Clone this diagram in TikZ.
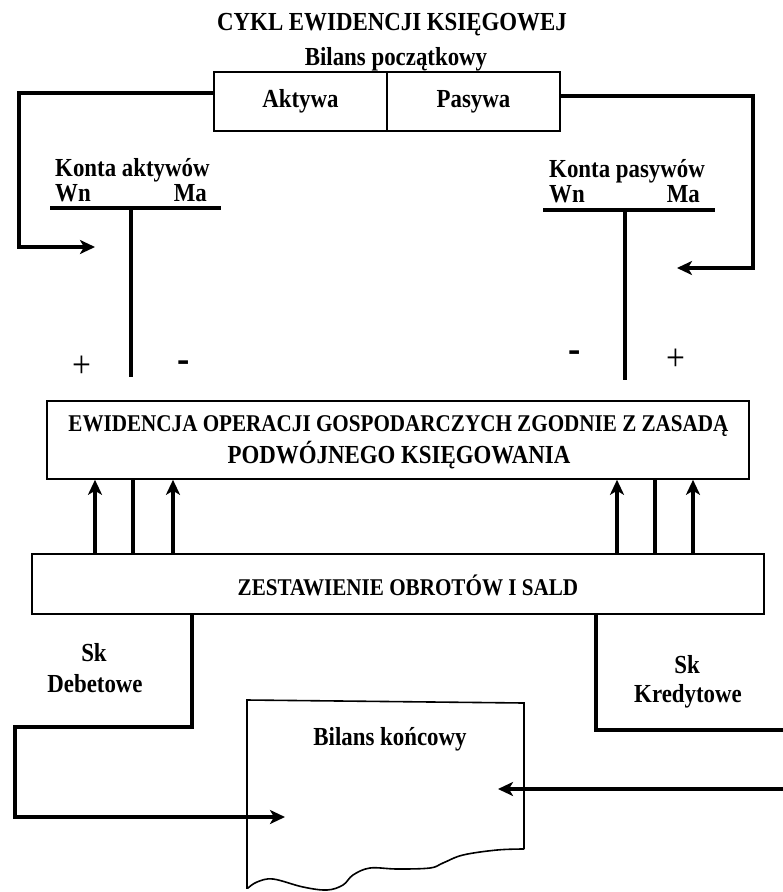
\documentclass[tikz,border=0pt]{standalone}
\usepackage{fontspec}
\setmainfont{Liberation Serif}[FakeStretch=0.88]
\usetikzlibrary{arrows.meta}
\newcommand\dsz[1]{\fontsize{#1}{#1}\selectfont\bfseries}

\begin{document}
\begin{tikzpicture}[x=1pt,y=-1pt,
  lbl/.style={inner sep=0pt, font=\dsz{26}},
  box/.style={draw, line width=1.6pt, inner sep=0pt},
  flow/.style={line width=3.2pt},
  arr/.style={flow, -{Stealth[length=15pt,width=14pt,inset=4pt]}},
  tbar/.style={line width=3.4pt},
  doc/.style={line width=1.6pt},
  plussign/.style={inner sep=0pt, font=\fontsize{38}{38}\selectfont},
  minussign/.style={inner sep=0pt, font=\dsz{42}},
]
\useasboundingbox (0,0) rectangle (783,892);

% heading
\node[lbl, anchor=base] (title) at (392,30) {CYKL EWIDENCJI KSIĘGOWEJ};

% opening balance
\node[lbl, anchor=base] (bp) at (396,65) {Bilans początkowy};
\node[box, lbl, minimum width=173pt, minimum height=59pt] (akt) at (300.5,101.5) {Aktywa};
\node[box, lbl, minimum width=173pt, minimum height=59pt] (pas) at (473.5,101.5) {Pasywa};

% asset accounts (T-account)
\node[lbl, anchor=base west] (ka) at (55,176) {Konta aktywów};
\node[lbl, anchor=base west] (kawn) at (55,201) {Wn};
\node[lbl, anchor=base east] (kama) at (207,201) {Ma};
\draw[tbar] (50,208) -- (221,208);
\draw[tbar] (131,208) -- (131,377);
\node[plussign] (kaplus) at (82,367) {+};
\node[minussign] (kaminus) at (184,367) {-};

% liability accounts (T-account)
\node[lbl, anchor=base west] (kp) at (549,177) {Konta pasywów};
\node[lbl, anchor=base west] (kpwn) at (549,202) {Wn};
\node[lbl, anchor=base east] (kpma) at (700,202) {Ma};
\draw[tbar] (543,210) -- (715,210);
\draw[tbar] (625,210) -- (625,380);
\node[minussign] (kpminus) at (575,357) {-};
\node[plussign] (kpplus) at (676,360) {+};

% opening balance into the accounts
\coordinate (kain) at (95,247);
\coordinate (kpin) at (677,268);
\draw[arr] ([yshift=8.5pt]akt.west) -| (19,247) -- (kain);
\draw[arr] ([yshift=5.5pt]pas.east) -| (753,268) -- (kpin);

% double-entry bookkeeping
\node[box, minimum width=702pt, minimum height=78pt] (ew) at (398,440) {};
\node[inner sep=0pt, anchor=base, font=\dsz{24}] (ew1) at (398.5,431) {EWIDENCJA OPERACJI GOSPODARCZYCH ZGODNIE Z ZASADĄ};
\node[inner sep=0pt, anchor=base, font=\dsz{26}] (ew2) at (399,463) {PODWÓJNEGO KSIĘGOWANIA};

% turnover and balance sheet
\node[box, minimum width=732pt, minimum height=60pt] (zo) at (398,584) {};
\node[inner sep=0pt, anchor=base, font=\dsz{24}] (zot) at (408,595) {ZESTAWIENIE OBROTÓW I SALD};

% links between the two boxes
\foreach \n/\x in {u1/95,u2/173,u4/617,u5/693} \coordinate (\n) at (\x,0);
\foreach \n/\x in {u3/133,u6/655} \coordinate (\n) at (\x,0);
\foreach \n in {u1,u2,u4,u5} \draw[arr] (zo.north -| \n) -- (ew.south -| \n);
\foreach \n in {u3,u6} \draw[flow] (zo.north -| \n) -- (ew.south -| \n);

% closing balances
\node[lbl, anchor=base] (skd) at (94,661) {Sk};
\node[lbl, anchor=base] (deb) at (95,692) {Debetowe};
\node[lbl, anchor=base] (skk) at (687,673) {Sk};
\node[lbl, anchor=base] (kred) at (688,702) {Kredytowe};

% closing balance sheet (document sheet)
\draw[doc] (524,849) -- (524,703) -- (247,700) -- (247,888)
  -- plot[smooth, tension=0.6] coordinates {(248,888) (257,882) (273,879) (303,887) (327,890) (343,885) (353,875) (370,868) (397,869) (430,868) (443,863) (463,855) (497,850) (524,849)};
\node[lbl, anchor=base] (bk) at (390,745) {Bilans końcowy};
\coordinate (bkl) at (285,817);
\coordinate (bkr) at (498,789);

\coordinate (dl) at (192,0);
\coordinate (dr) at (596,0);
\draw[arr] (zo.south -| dl) -- (192,727) -- (15,727) -- (15,817) -- (bkl);
\draw[flow] (zo.south -| dr) |- (783,730);
\draw[arr] (783,789) -- (bkr);
\end{tikzpicture}
\end{document}
